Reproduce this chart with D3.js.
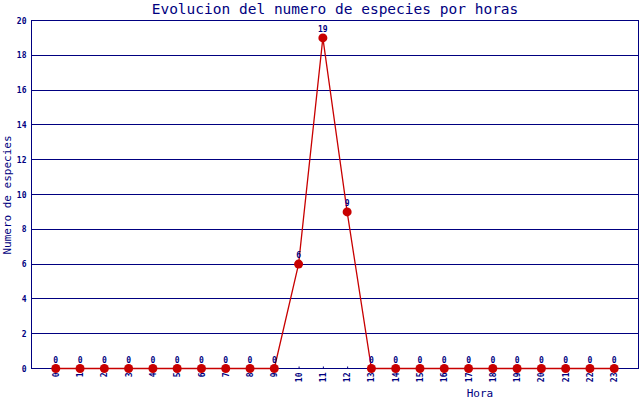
<!DOCTYPE html>
<html><head><meta charset="utf-8">
<script src="https://cdn.jsdelivr.net/npm/d3@7"></script>
<style>body{margin:0;background:#fff}svg{display:block}</style>
</head><body>
<svg id="c" width="640" height="400"></svg>
<script>
const hours = d3.range(0, 24);
const hourLabels = hours.map(String);
const counts = [0,0,0,0,0,0,0,0,0,0,6,19,9,0,0,0,0,0,0,0,0,0,0,0];
const yTicks = [0,2,4,6,8,10,12,14,16,18,20];
const title = "Evolucion del numero de especies por horas";
const xTitle = "Hora";
const yTitle = "Numero de especies";

const navy = "#000080", red = "#c80000";
const font = "'DejaVu Sans Mono', 'Liberation Mono', monospace";
const svg = d3.select("#c");
const L = 31.5, R = 638.5, T = 20.5, B = 368.5;
const x = d3.scaleLinear().domain([-1, 24]).range([L, R]);
const y = d3.scaleLinear().domain([0, 20]).range([B, T]);

svg.append("rect").attr("width",640).attr("height",400).attr("fill","#fff");

// grid
svg.append("g").selectAll("line").data(yTicks).join("line")
  .attr("x1", L).attr("x2", R)
  .attr("y1", d => Math.floor(y(d)) + 0.5).attr("y2", d => Math.floor(y(d)) + 0.5)
  .attr("stroke", navy).attr("stroke-width", 1);
svg.append("rect").attr("x", L).attr("y", T).attr("width", R - L).attr("height", B - T)
  .attr("fill", "none").attr("stroke", navy);

// y axis labels
const yAxis = d3.axisLeft(y).tickValues(yTicks).tickSize(0).tickPadding(5);
const gy = svg.append("g").attr("transform", `translate(${L},0)`).call(yAxis);
gy.select(".domain").remove();
gy.selectAll("text").attr("fill", navy).style("font", `bold 8px ${font}`);

// x axis
const xAxis = d3.axisBottom(x).tickValues(hours).tickFormat(d => hourLabels[d]).tickSize(-2).tickPadding(4);
const gx = svg.append("g").attr("transform", `translate(0,${B})`).call(xAxis);
gx.select(".domain").remove();
gx.selectAll("line").attr("stroke", navy);
gx.selectAll("text").attr("fill", navy).style("font", `bold 8px ${font}`)
  .attr("transform", "rotate(-90)").attr("text-anchor", "end")
  .attr("x", -4).attr("y", 0).attr("dy", "0.32em");

// line
const line = d3.line().x((d, i) => x(hours[i])).y(d => y(d));
svg.append("path").datum(counts).attr("d", line)
  .attr("fill", "none").attr("stroke", red).attr("stroke-width", 1.3);

// markers
svg.append("g").selectAll("circle").data(counts).join("circle")
  .attr("cx", (d, i) => x(hours[i])).attr("cy", d => y(d)).attr("r", 4.5)
  .attr("fill", red);

// value labels
svg.append("g").selectAll("text").data(counts).join("text")
  .attr("x", (d, i) => x(hours[i])).attr("y", d => y(d) - 6)
  .attr("text-anchor", "middle").attr("fill", navy)
  .style("font", `bold 8px ${font}`).text(d => d);

// titles
svg.append("text").attr("x", 335).attr("y", 14).attr("text-anchor", "middle")
  .attr("fill", navy).style("font", `14.5px ${font}`).text(title);
svg.append("text").attr("x", 480).attr("y", 397).attr("text-anchor", "middle")
  .attr("fill", navy).style("font", `11px ${font}`).text(xTitle);
svg.append("text").attr("transform", "translate(11,195) rotate(-90)").attr("text-anchor", "middle")
  .attr("fill", navy).style("font", `11px ${font}`).text(yTitle);
</script>
</body></html>
